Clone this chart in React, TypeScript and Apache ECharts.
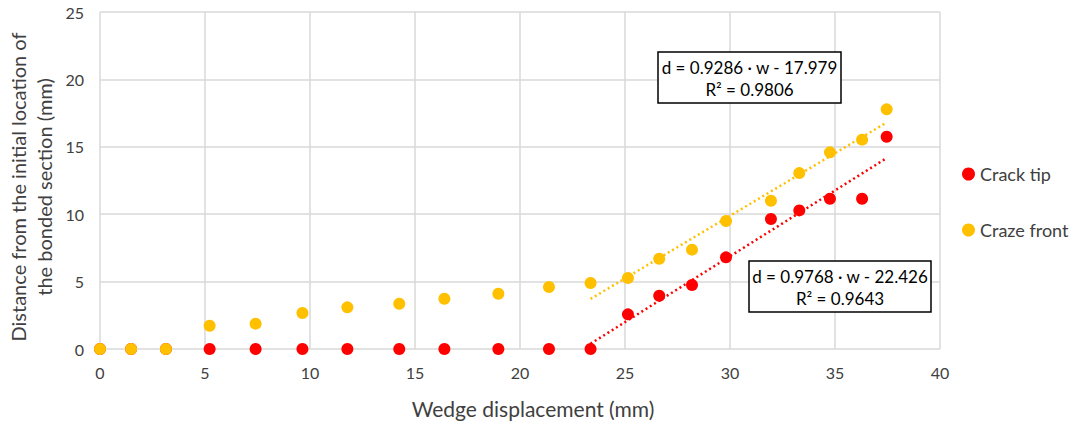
import React, { useEffect, useRef } from "react";
import * as echarts from "echarts";

const crackX = [0, 1.48, 3.14, 5.22, 7.41, 9.64, 11.78, 14.25, 16.4, 18.97, 21.38, 23.36, 25.14, 26.63, 28.19, 29.81, 31.95, 33.3, 34.76, 36.29, 37.46];
const crackY = [0, 0, 0, 0, 0, 0, 0, 0, 0, 0, 0, 0, 2.57, 3.95, 4.75, 6.8, 9.64, 10.28, 11.15, 11.15, 15.75];
const crazeX = [0, 1.48, 3.14, 5.22, 7.41, 9.64, 11.78, 14.25, 16.4, 18.97, 21.38, 23.36, 25.14, 26.63, 28.19, 29.81, 31.95, 33.3, 34.76, 36.29, 37.46];
const crazeY = [0, 0, 0, 1.73, 1.88, 2.67, 3.09, 3.36, 3.73, 4.1, 4.6, 4.9, 5.27, 6.7, 7.37, 9.5, 11.0, 13.05, 14.59, 15.53, 17.78];

// trendline coefficients as shown in the chart: d = slope * w + intercept
const crackFit = { slope: 0.9768, intercept: -22.426, r2: "0.9643" };
const crazeFit = { slope: 0.9286, intercept: -17.979, r2: "0.9806" };
const fitRange = [23.36, 37.46];

const FONT = "Lato, 'Open Sans', sans-serif";

export default function App() {
  const ref = useRef<HTMLDivElement>(null);
  useEffect(() => {
    if (!ref.current) return;
    const chart = echarts.init(ref.current, undefined, { renderer: "svg" });
    const fitLine = (f: { slope: number; intercept: number }) =>
      fitRange.map((w) => [w, f.slope * w + f.intercept]);
    const boxText = (f: { slope: number; intercept: number; r2: string }) =>
      `d = ${f.slope.toFixed(4)} · w - ${Math.abs(f.intercept).toFixed(3)}\nR² = ${f.r2}`;
    chart.setOption({
      animation: false,
      textStyle: { fontFamily: FONT },
      grid: { left: 100, right: 137, top: 12, bottom: 76, outerBoundsMode: "none", containLabel: false },
      xAxis: {
        type: "value",
        min: 0,
        max: 40,
        interval: 5,
        axisLine: { show: false },
        axisTick: { show: false },
        axisLabel: { fontSize: 16, color: "#404040", margin: 15, fontFamily: FONT },
        splitLine: { lineStyle: { color: "#d9d9d9", width: 1.5 } },
      },
      yAxis: {
        type: "value",
        min: 0,
        max: 25,
        interval: 5,
        axisLine: { show: false },
        axisTick: { show: false },
        axisLabel: { fontSize: 16, color: "#404040", margin: 16, fontFamily: FONT },
        splitLine: { lineStyle: { color: "#d9d9d9", width: 1.5 } },
      },
      legend: {
        orient: "vertical",
        left: 957,
        top: 160,
        itemGap: 38,
        itemWidth: 13,
        itemHeight: 13,
        icon: "circle",
        textStyle: { fontSize: 18, color: "#404040", fontFamily: FONT },
        data: ["Crack tip", "Craze front"],
      },
      series: [
        {
          name: "Craze front trend",
          type: "line",
          data: fitLine(crazeFit),
          symbol: "none",
          lineStyle: { color: "#ffc000", width: 2.5, type: [2, 3] },
          z: 1,
        },
        {
          name: "Crack tip trend",
          type: "line",
          data: fitLine(crackFit),
          symbol: "none",
          lineStyle: { color: "#ff0000", width: 2.5, type: [2, 3] },
          z: 1,
        },
        {
          name: "Crack tip",
          type: "scatter",
          data: crackX.map((x, i) => [x, crackY[i]]),
          symbolSize: 12,
          itemStyle: { color: "#ff0000", opacity: 1 },
          z: 2,
        },
        {
          name: "Craze front",
          type: "scatter",
          data: crazeX.map((x, i) => [x, crazeY[i]]),
          symbolSize: 12,
          itemStyle: { color: "#ffc000", opacity: 1 },
          z: 3,
        },
      ],
      graphic: [
        {
          type: "text",
          x: 533,
          y: 408,
          style: {
            text: "Wedge displacement (mm)",
            fontSize: 21,
            fill: "#404040",
            align: "center",
            verticalAlign: "middle",
            fontFamily: FONT,
          },
        },
        {
          type: "text",
          x: 31,
          y: 187,
          rotation: Math.PI / 2,
          style: {
            text: "Distance from the initial location of\nthe bonded section (mm)",
            fontSize: 20,
            lineHeight: 26,
            fill: "#404040",
            align: "center",
            verticalAlign: "middle",
            fontFamily: FONT,
          },
        },
        {
          type: "rect",
          shape: { x: 658, y: 52, width: 183, height: 51 },
          style: { fill: "#fff", stroke: "#000", lineWidth: 1.5 },
          z: 10,
        },
        {
          type: "text",
          x: 749.5,
          y: 78,
          style: {
            text: boxText(crazeFit),
            fontSize: 17,
            lineHeight: 22,
            fill: "#000",
            align: "center",
            verticalAlign: "middle",
            fontFamily: FONT,
          },
          z: 11,
        },
        {
          type: "rect",
          shape: { x: 749, y: 261, width: 182, height: 51 },
          style: { fill: "#fff", stroke: "#000", lineWidth: 1.5 },
          z: 10,
        },
        {
          type: "text",
          x: 840,
          y: 287,
          style: {
            text: boxText(crackFit),
            fontSize: 17,
            lineHeight: 22,
            fill: "#000",
            align: "center",
            verticalAlign: "middle",
            fontFamily: FONT,
          },
          z: 11,
        },
      ],
    });
    return () => chart.dispose();
  }, []);
  return <div ref={ref} style={{ width: 1077, height: 425, position: "absolute", left: 0, top: 0 }} />;
}
